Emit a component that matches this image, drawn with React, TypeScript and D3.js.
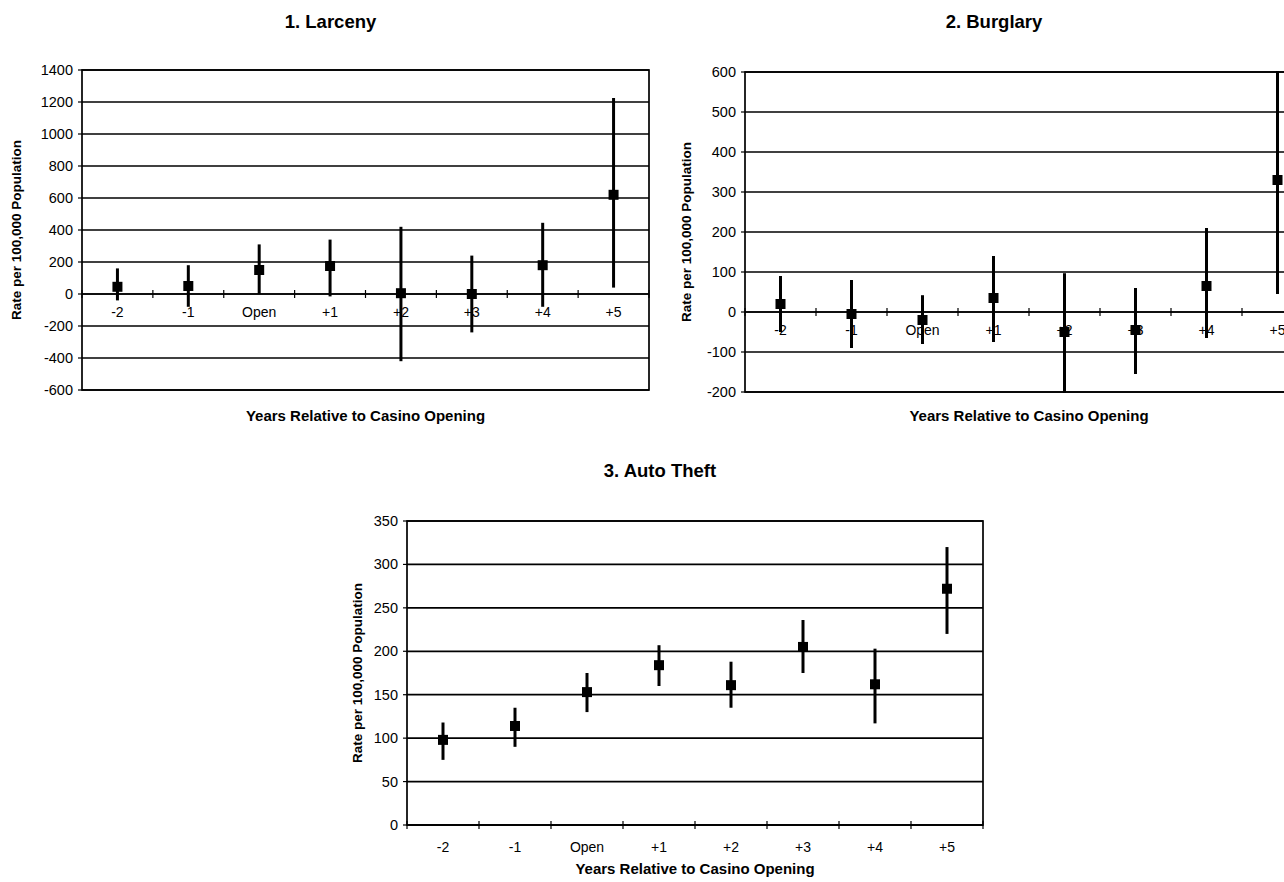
import * as d3 from 'd3';
import React from 'react';

const categories = ['-2', '-1', 'Open', '+1', '+2', '+3', '+4', '+5'];

// 1. Larceny
const larcenyMean = [45, 50, 150, 175, 5, 0, 180, 620];
const larcenyLow = [-40, -80, 0, -15, -420, -240, -80, 40];
const larcenyHigh = [160, 180, 310, 340, 420, 240, 445, 1225];
const larcenyTicks = [-600, -400, -200, 0, 200, 400, 600, 800, 1000, 1200, 1400];

// 2. Burglary
const burglaryMean = [20, -5, -20, 35, -50, -45, 65, 330];
const burglaryLow = [-50, -90, -80, -75, -210, -155, -65, 45];
const burglaryHigh = [90, 80, 42, 140, 97, 60, 210, 620];
const burglaryTicks = [-200, -100, 0, 100, 200, 300, 400, 500, 600];

// 3. Auto theft
const autoMean = [98, 114, 153, 184, 161, 205, 162, 272];
const autoLow = [75, 90, 130, 160, 135, 175, 117, 220];
const autoHigh = [118, 135, 175, 207, 188, 236, 203, 320];
const autoTicks = [0, 50, 100, 150, 200, 250, 300, 350];

const FONT = '"Liberation Sans", Arial, sans-serif';
const xTitle = 'Years Relative to Casino Opening';
const yTitle = 'Rate per 100,000 Population';

type PanelProps = {
  id: string;
  title: string;
  left: number;
  right: number;
  top: number;
  bottom: number;
  ticks: number[];
  mean: number[];
  low: number[];
  high: number[];
  titleY: number;
  xTitleY: number;
  yLabelX: number;
  zeroAxis: boolean;
};

const Panel = ({ id, title, left, right, top, bottom, ticks, mean, low, high, titleY, xTitleY, yLabelX, zeroAxis }: PanelProps) => {
  const x = d3.scaleBand().domain(categories).range([left, right]);
  const y = d3.scaleLinear().domain([ticks[0], ticks[ticks.length - 1]]).range([bottom, top]);
  const cx = (c: string) => (x(c) as number) + x.bandwidth() / 2;
  const axisY = zeroAxis ? y(0) : bottom;
  const bounds = d3.range(categories.length + 1).map(i => left + i * x.step());
  const plotMid = (left + right) / 2;
  const labelY = axisY + (zeroAxis ? 23 : 27);

  return (
    <g>
      <defs>
        <clipPath id={`clip-${id}`}>
          <rect x={left} y={top - 1} width={right - left} height={bottom - top + 2} />
        </clipPath>
      </defs>
      <text x={plotMid - 35} y={titleY} textAnchor="middle" fontFamily={FONT} fontWeight="bold" fontSize={18.5}>{title}</text>

      {/* gridlines + y ticks */}
      {ticks.map(t => (
        <g key={t}>
          <line x1={left} x2={right} y1={y(t)} y2={y(t)} stroke="#000" strokeWidth={1.7} />
          <line x1={left - 4} x2={left} y1={y(t)} y2={y(t)} stroke="#000" strokeWidth={1.2} />
          <text x={left - 9} y={y(t) + 5} textAnchor="end" fontFamily={FONT} fontSize={14.5}>{t}</text>
        </g>
      ))}
      <rect x={left} y={top} width={right - left} height={bottom - top} fill="none" stroke="#000" strokeWidth={1.7} />

      {/* category axis */}
      <line x1={left} x2={right} y1={axisY} y2={axisY} stroke="#000" strokeWidth={1.7} />
      {bounds.map((b, i) => (
        <line key={i} x1={b} x2={b} y1={axisY - 4} y2={axisY + 4} stroke="#000" strokeWidth={1.2} />
      ))}
      {categories.map(c => (
        <text key={c} x={cx(c)} y={labelY} textAnchor="middle" fontFamily={FONT} fontSize={14}>{c}</text>
      ))}

      {/* error bars and means */}
      <g clipPath={`url(#clip-${id})`}>
        {categories.map((c, i) => (
          <line key={c} x1={cx(c)} x2={cx(c)} y1={y(low[i])} y2={y(high[i])} stroke="#000" strokeWidth={3} />
        ))}
        {categories.map((c, i) => (
          <rect key={c} x={cx(c) - 5} y={y(mean[i]) - 5} width={10} height={10} fill="#000" />
        ))}
      </g>

      <text x={plotMid} y={xTitleY} textAnchor="middle" fontFamily={FONT} fontWeight="bold" fontSize={15}>{xTitle}</text>
      <text transform={`translate(${yLabelX},${(top + bottom) / 2}) rotate(-90)`} textAnchor="middle" fontFamily={FONT} fontWeight="bold" fontSize={13.5}>{yTitle}</text>
    </g>
  );
};

export default function App() {
  return (
    <div style={{ position: 'absolute', left: 0, top: 0, width: 1284, height: 882, background: '#fff', overflow: 'hidden' }}>
      <svg width={1284} height={882} style={{ display: 'block' }}>
        <rect width={1284} height={882} fill="#fff" />
        <Panel id="larceny" title="1. Larceny" left={82} right={649} top={70} bottom={390}
          ticks={larcenyTicks} mean={larcenyMean} low={larcenyLow} high={larcenyHigh}
          titleY={28} xTitleY={421} yLabelX={21} zeroAxis={true} />
        <Panel id="burglary" title="2. Burglary" left={745} right={1313} top={72} bottom={392}
          ticks={burglaryTicks} mean={burglaryMean} low={burglaryLow} high={burglaryHigh}
          titleY={28} xTitleY={421} yLabelX={691} zeroAxis={true} />
        <Panel id="auto" title="3.  Auto Theft" left={407} right={983} top={521} bottom={825}
          ticks={autoTicks} mean={autoMean} low={autoLow} high={autoHigh}
          titleY={477} xTitleY={874} yLabelX={362} zeroAxis={false} />
      </svg>
    </div>
  );
}
